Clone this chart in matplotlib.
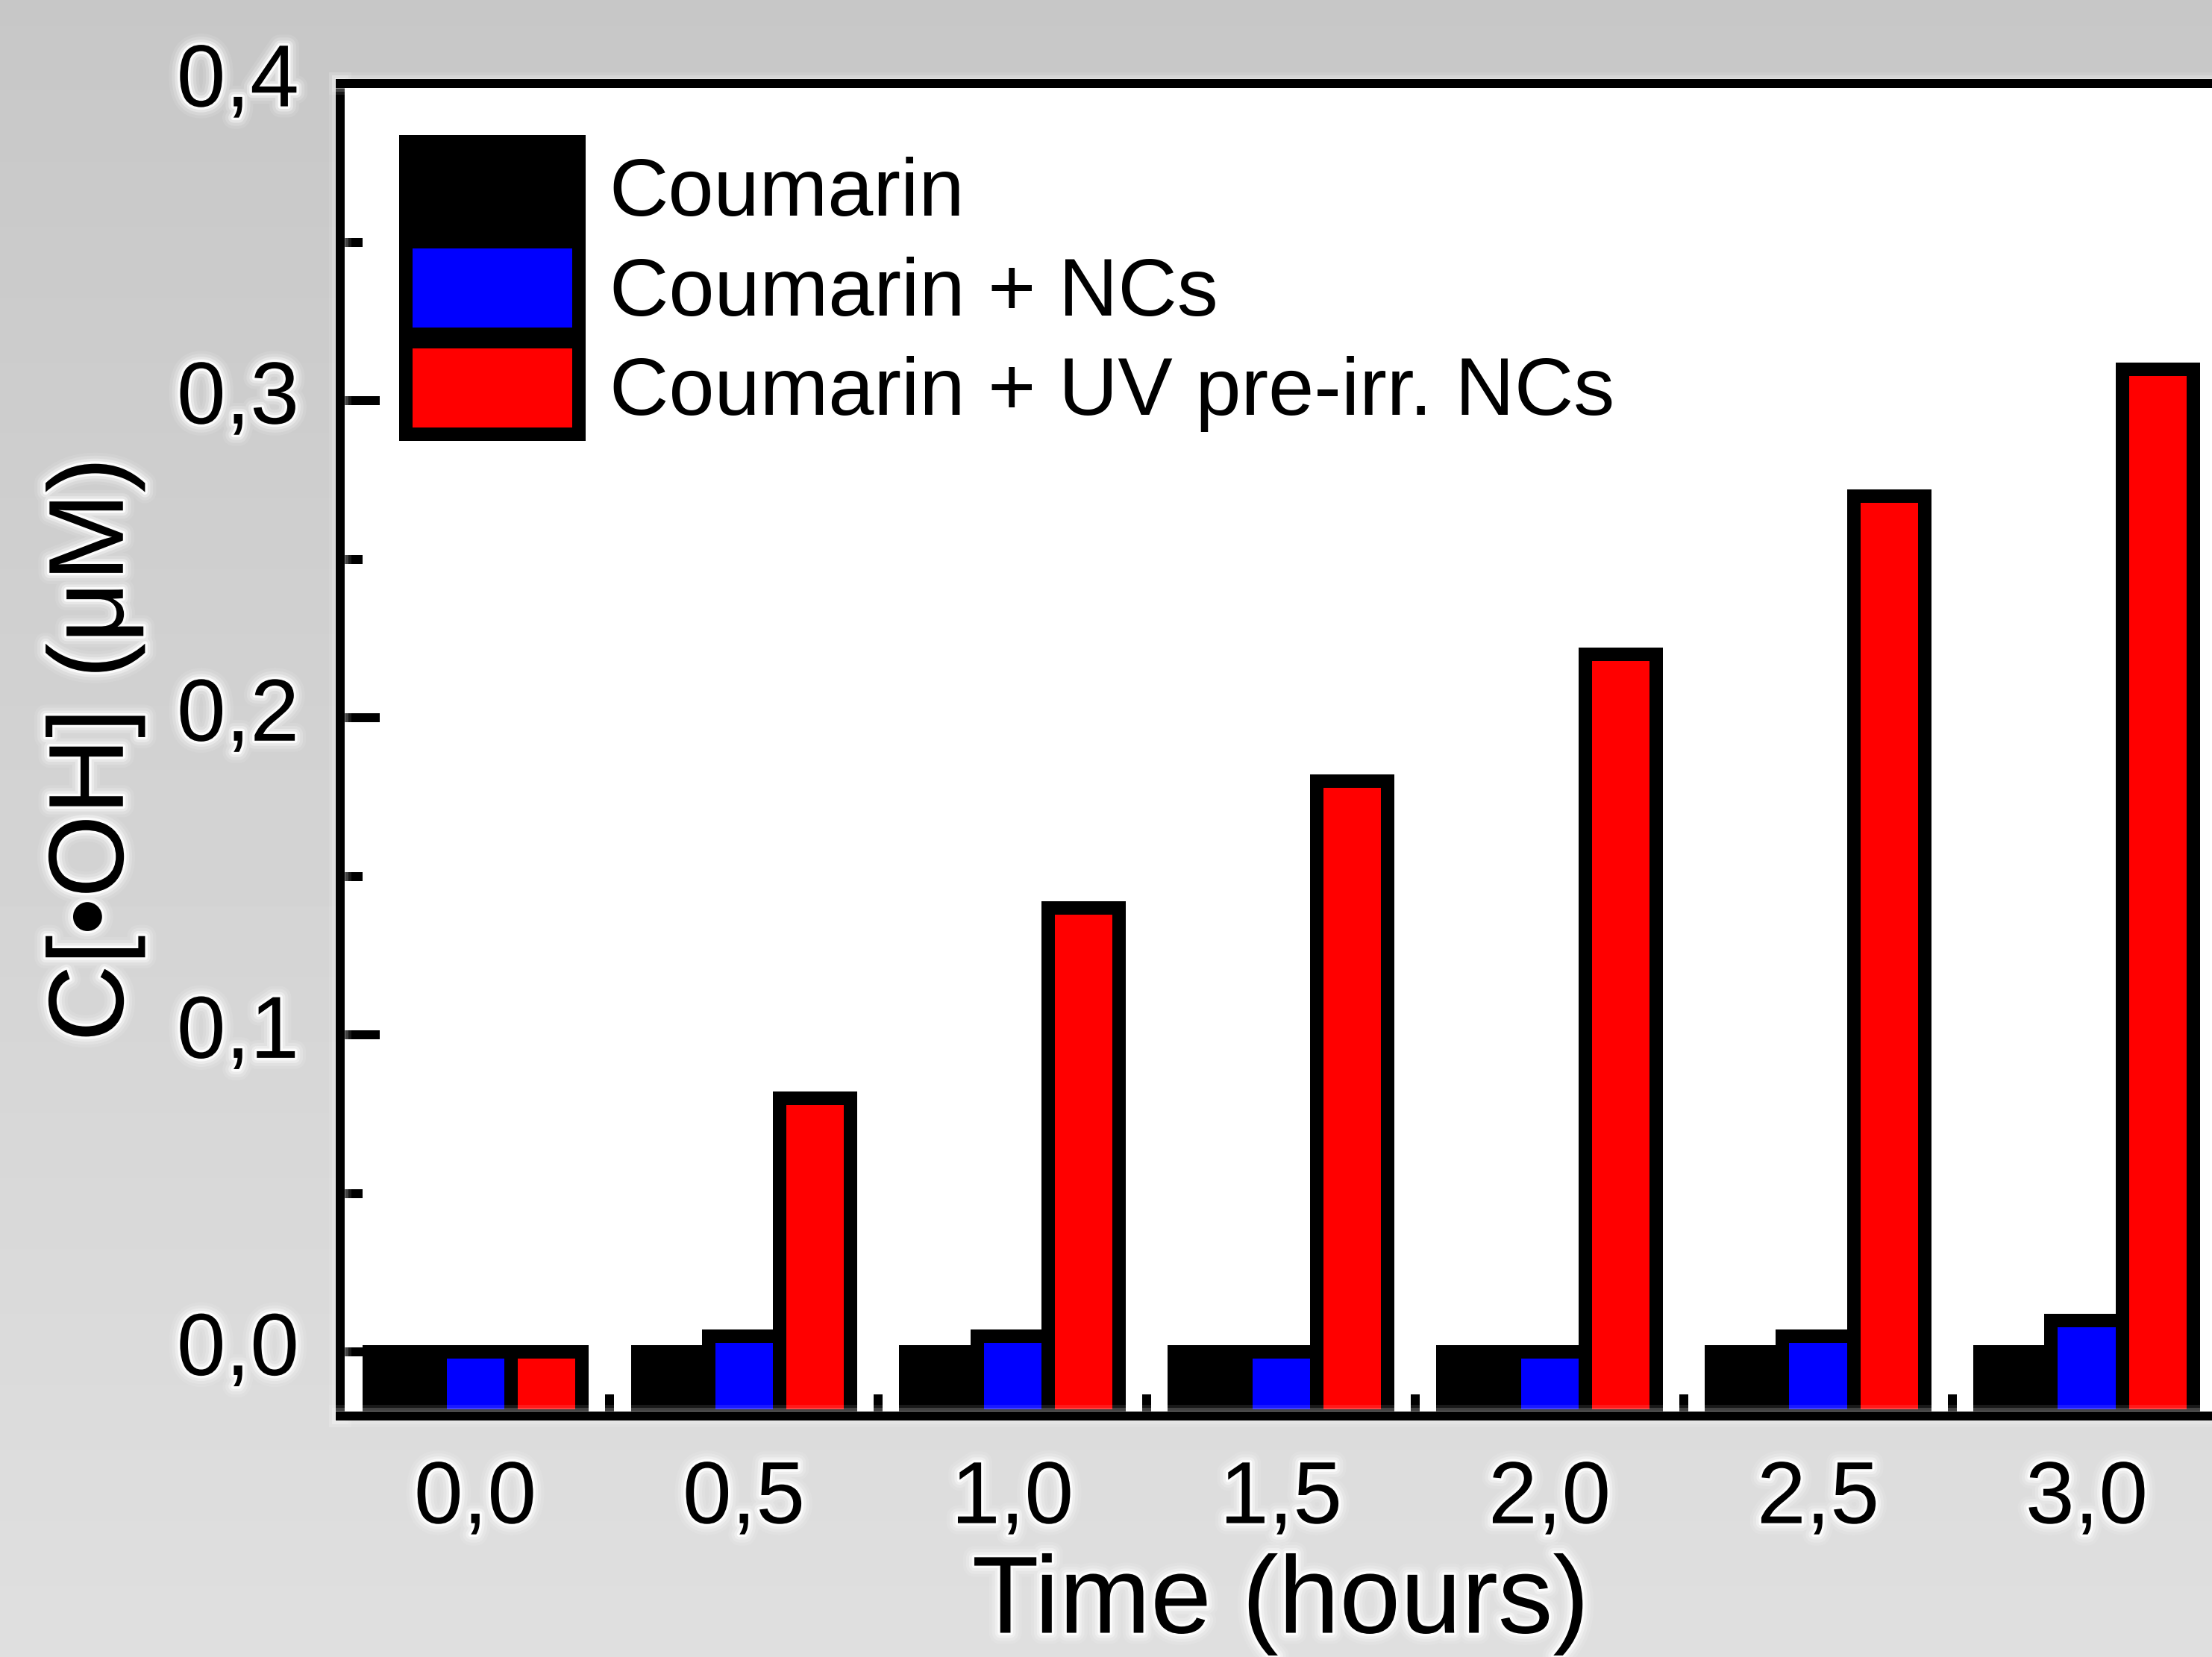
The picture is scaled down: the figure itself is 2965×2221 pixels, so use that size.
import numpy as np
import matplotlib
matplotlib.use('Agg')
import matplotlib.pyplot as plt
import matplotlib.patheffects as pe
from matplotlib.ticker import MultipleLocator, FixedLocator

# data
times = ['0,0', '0,5', '1,0', '1,5', '2,0', '2,5', '3,0']
coumarin = [0.0, 0.0, 0.0, 0.0, 0.0, 0.0, 0.0]
coumarin_ncs = [0.0, 0.005, 0.005, 0.0, 0.0, 0.005, 0.01]
coumarin_uv_ncs = [0.0, 0.08, 0.14, 0.18, 0.22, 0.27, 0.31]
series_names = ['Coumarin', 'Coumarin + NCs', 'Coumarin + UV pre-irr. NCs']
series_colors = ['#000000', '#0000ff', '#ff0000']
y_ticks = [0.0, 0.1, 0.2, 0.3, 0.4]
y_tick_labels = ['0,0', '0,1', '0,2', '0,3', '0,4']

plt.rcParams['font.family'] = ['Liberation Sans', 'DejaVu Sans']

W, H, DPI = 2965, 2221, 72
fig = plt.figure(figsize=(W / DPI, H / DPI), dpi=DPI)

# grey gradient background
bg = fig.add_axes([0, 0, 1, 1], zorder=-10)
grad = np.linspace(0.78, 0.875, 256).reshape(-1, 1)
bg.imshow(grad, aspect='auto', cmap='gray', vmin=0, vmax=1, extent=(0, 1, 0, 1))
bg.set_axis_off()

glow = [pe.Stroke(linewidth=30, foreground='white', alpha=0.10),
        pe.Stroke(linewidth=22, foreground='white', alpha=0.18),
        pe.Stroke(linewidth=14, foreground='white', alpha=0.35),
        pe.Stroke(linewidth=7, foreground='white', alpha=0.85),
        pe.Normal()]

ax = fig.add_axes([456 / W, 1 - 1897.5 / H, (2977 - 456) / W, (1897.5 - 112) / H])
ax.set_facecolor('white')

x = np.arange(len(times))
width = 0.264
y_bottom = -0.02
offsets = [-width, 0, width]
for vals, off, name, color in zip([coumarin, coumarin_ncs, coumarin_uv_ncs],
                                  offsets, series_names, series_colors):
    v = np.array(vals)
    ax.bar(x + off, v - y_bottom, width, bottom=y_bottom, color=color,
           edgecolor='black', linewidth=18, label=name, zorder=2)

ax.set_xlim(-0.503, 6.5)
ax.set_ylim(y_bottom, 0.4)

ax.set_xticks(x)
ax.set_xticklabels(times)
ax.xaxis.set_minor_locator(FixedLocator(x[:-1] + 0.5))
ax.set_yticks(y_ticks)
ax.set_yticklabels(y_tick_labels, va='center')
ax.yaxis.set_minor_locator(MultipleLocator(0.05))

ax.tick_params(axis='x', which='major', length=0, pad=58, labelsize=118)
ax.tick_params(axis='x', which='minor', direction='in', length=29, width=12)
ax.tick_params(axis='y', which='major', direction='in', length=53, width=12,
               pad=55, labelsize=118)
ax.tick_params(axis='y', which='minor', direction='in', length=30, width=12)
ax.tick_params(top=False, right=False, which='both')

for sp in ax.spines.values():
    sp.set_linewidth(12)
    sp.set_path_effects(glow)

for lbl in ax.get_xticklabels() + ax.get_yticklabels():
    lbl.set_path_effects(glow)

ax.set_xlabel('Time (hours)', fontsize=147, labelpad=16, path_effects=glow)
ax.set_ylabel('C[•OH] (μM)', fontsize=143, labelpad=42, path_effects=glow)

ax.legend(loc='upper left', bbox_to_anchor=(544 / W, 1 - 190 / H),
          bbox_transform=fig.transFigure, frameon=False, fontsize=110,
          handlelength=2.11, handleheight=1.357, labelspacing=0.09,
          handletextpad=0.37, borderpad=0, borderaxespad=0)

fig.savefig('out.png', dpi=DPI)
